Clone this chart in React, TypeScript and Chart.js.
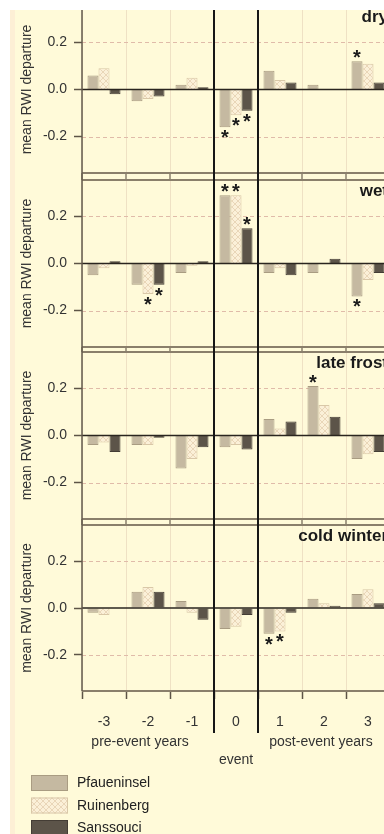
import React, { useEffect, useRef } from 'react';
import { Chart, registerables } from 'chart.js';

Chart.register(...registerables);
Chart.defaults.font.family = '"Liberation Sans", Arial, Helvetica, sans-serif';

// ---------- data ----------
const categories = ['-3', '-2', '-1', '0', '1', '2', '3'];
const siteNames = ['Pfaueninsel', 'Ruinenberg', 'Sanssouci'];
const panelTitles = ['dry', 'wet', 'late frost', 'cold winter'];
const eventCategory = '0';
const preLabel = 'pre-event years';
const postLabel = 'post-event years';
const eventLabel = 'event';
const yTitle = 'mean RWI departure';

const dryPfaueninsel = [0.06, -0.05, 0.02, -0.16, 0.08, 0.02, 0.12];
const dryRuinenberg = [0.09, -0.04, 0.05, -0.11, 0.04, 0.0, 0.11];
const drySanssouci = [-0.02, -0.03, 0.01, -0.09, 0.03, 0.0, 0.03];

const wetPfaueninsel = [-0.05, -0.09, -0.04, 0.29, -0.04, -0.04, -0.14];
const wetRuinenberg = [-0.02, -0.13, -0.01, 0.29, -0.02, 0.0, -0.07];
const wetSanssouci = [0.01, -0.09, 0.01, 0.15, -0.05, 0.02, -0.04];

const frostPfaueninsel = [-0.04, -0.04, -0.14, -0.05, 0.07, 0.21, -0.1];
const frostRuinenberg = [-0.03, -0.04, -0.1, -0.04, 0.03, 0.13, -0.08];
const frostSanssouci = [-0.07, -0.01, -0.05, -0.06, 0.06, 0.08, -0.07];

const coldPfaueninsel = [-0.02, 0.07, 0.03, -0.09, -0.11, 0.04, 0.06];
const coldRuinenberg = [-0.03, 0.09, -0.02, -0.08, -0.1, 0.02, 0.08];
const coldSanssouci = [0.0, 0.07, -0.05, -0.03, -0.02, 0.01, 0.02];

// significance stars (1 = significant)
const dryStarsPfaueninsel = [0, 0, 0, 1, 0, 0, 1];
const dryStarsRuinenberg = [0, 0, 0, 1, 0, 0, 0];
const dryStarsSanssouci = [0, 0, 0, 1, 0, 0, 0];
const wetStarsPfaueninsel = [0, 0, 0, 1, 0, 0, 1];
const wetStarsRuinenberg = [0, 1, 0, 1, 0, 0, 0];
const wetStarsSanssouci = [0, 1, 0, 1, 0, 0, 0];
const frostStarsPfaueninsel = [0, 0, 0, 0, 0, 1, 0];
const frostStarsRuinenberg = [0, 0, 0, 0, 0, 0, 0];
const frostStarsSanssouci = [0, 0, 0, 0, 0, 0, 0];
const coldStarsPfaueninsel = [0, 0, 0, 0, 1, 0, 0];
const coldStarsRuinenberg = [0, 0, 0, 0, 1, 0, 0];
const coldStarsSanssouci = [0, 0, 0, 0, 0, 0, 0];

const yMin = -0.355;
const yMax = 0.355;
const yStep = 0.2;

const panelSeries = [
  [dryPfaueninsel, dryRuinenberg, drySanssouci],
  [wetPfaueninsel, wetRuinenberg, wetSanssouci],
  [frostPfaueninsel, frostRuinenberg, frostSanssouci],
  [coldPfaueninsel, coldRuinenberg, coldSanssouci],
];
const panelStars = [
  [dryStarsPfaueninsel, dryStarsRuinenberg, dryStarsSanssouci],
  [wetStarsPfaueninsel, wetStarsRuinenberg, wetStarsSanssouci],
  [frostStarsPfaueninsel, frostStarsRuinenberg, frostStarsSanssouci],
  [coldStarsPfaueninsel, coldStarsRuinenberg, coldStarsSanssouci],
];

// ---------- styles / layout ----------
const FONT = '"Liberation Sans", Arial, Helvetica, sans-serif';
const siteFill = ['#c5b9a1', 'hatch', '#5c5449'];
const siteBorder = ['#a99c82', '#d9c8a8', '#443d35'];
const borderLine = '#8a7f6b';
const canvasWidth = 400;
const canvasTops = [-7, 167, 340, 512]; // relative to figure (page - 10)
const canvasHeights = [174, 173, 172, 312];
const padTop = [3, 3, 2, 3];
const padBottom = [4, 3, 3, 0];

let hatchPattern: CanvasPattern | null = null;
function getHatch(ctx: CanvasRenderingContext2D) {
  if (hatchPattern) return hatchPattern;
  const c = document.createElement('canvas');
  c.width = 6;
  c.height = 6;
  const g = c.getContext('2d')!;
  g.fillStyle = '#fbf0d8';
  g.fillRect(0, 0, 6, 6);
  g.strokeStyle = '#e9d6b8';
  g.lineWidth = 1;
  g.beginPath();
  g.moveTo(0, 0);
  g.lineTo(6, 6);
  g.moveTo(6, 0);
  g.lineTo(0, 6);
  g.stroke();
  hatchPattern = ctx.createPattern(c, 'repeat');
  return hatchPattern!;
}

function makeDecor(index: number, isLast: boolean) {
  const line = (ctx: CanvasRenderingContext2D, x1: number, y1: number, x2: number, y2: number) => {
    ctx.beginPath();
    ctx.moveTo(x1, y1);
    ctx.lineTo(x2, y2);
    ctx.stroke();
  };
  const bounds = (chart: any) => {
    const x = chart.scales.x;
    const c0 = x.getPixelForValue(0);
    const w = x.getPixelForValue(1) - c0;
    const arr: number[] = [];
    for (let k = 0; k <= categories.length; k++) arr.push(c0 - w / 2 + k * w);
    return arr;
  };
  return {
    id: 'panelDecor' + index,
    beforeDatasetsDraw(chart: any) {
      const { ctx, chartArea: ca } = chart;
      const y = chart.scales.y;
      ctx.save();
      ctx.strokeStyle = '#e0bba9';
      ctx.lineWidth = 1;
      ctx.setLineDash([4, 3]);
      y.ticks.forEach((t: any) => {
        if (Math.abs(t.value) < 1e-9) return;
        const py = Math.round(y.getPixelForValue(t.value)) + 0.5;
        line(ctx, ca.left, py, ca.right, py);
      });
      ctx.restore();
    },
    afterDatasetsDraw(chart: any) {
      const { ctx, chartArea: ca } = chart;
      const y = chart.scales.y;
      const x = chart.scales.x;
      const b = bounds(chart);
      const ei = categories.indexOf(eventCategory);
      ctx.save();
      // zero line
      ctx.strokeStyle = '#2a251f';
      ctx.lineWidth = 1.5;
      const y0 = y.getPixelForValue(0);
      line(ctx, ca.left, y0, ca.right, y0);
      // panel border lines
      ctx.strokeStyle = borderLine;
      ctx.lineWidth = 2;
      line(ctx, ca.left, ca.top, ca.right, ca.top);
      line(ctx, ca.left, ca.bottom, ca.right, ca.bottom);
      // gap connectors
      ctx.lineWidth = 1.5;
      b.forEach((bx, k) => {
        if (k === ei || k === ei + 1) return;
        if (!isLast) line(ctx, bx, ca.bottom, bx, chart.height);
        if (index > 0) line(ctx, bx, 0, bx, ca.top);
      });
      // left axis
      ctx.strokeStyle = '#62594b';
      ctx.lineWidth = 1.5;
      line(ctx, ca.left, 0, ca.left, isLast ? ca.bottom : chart.height);
      // event lines
      ctx.strokeStyle = '#161616';
      ctx.lineWidth = 2;
      [b[ei], b[ei + 1]].forEach((bx) => line(ctx, bx, 0, bx, isLast ? ca.bottom + 42 : chart.height));
      // title
      ctx.fillStyle = '#1a1a1a';
      ctx.font = 'bold 17px ' + FONT;
      ctx.textAlign = 'right';
      ctx.textBaseline = 'middle';
      ctx.fillText(panelTitles[index], ca.right - 2, ca.top + 11);
      // stars
      ctx.font = 'bold 20px ' + FONT;
      ctx.textAlign = 'center';
      ctx.textBaseline = 'alphabetic';
      const m = ctx.measureText('*');
      const mid = (m.actualBoundingBoxAscent - m.actualBoundingBoxDescent) / 2;
      panelStars[index].forEach((flags, di) => {
        const meta = chart.getDatasetMeta(di);
        flags.forEach((f, j) => {
          if (!f) return;
          const el = meta.data[j];
          const v = panelSeries[index][di][j];
          const cy = v >= 0 ? el.y - 7 : el.y + 7;
          ctx.fillText('*', el.x, cy + mid);
        });
      });
      if (isLast) {
        ctx.fillStyle = '#333';
        ctx.font = '14px ' + FONT;
        ctx.textAlign = 'center';
        ctx.textBaseline = 'middle';
        ctx.fillText(preLabel, (b[0] + b[ei]) / 2 - 8, ca.bottom + 51);
        ctx.fillText(postLabel, (b[ei + 1] + b[categories.length]) / 2 - 3, ca.bottom + 51);
        ctx.fillText(eventLabel, x.getPixelForValue(ei), ca.bottom + 69);
        // legend
        chart.data.datasets.forEach((ds: any, i: number) => {
          const by = ca.bottom + 84 + i * 22.5;
          ctx.fillStyle = ds.backgroundColor;
          ctx.fillRect(21, by, 37, 16);
          ctx.strokeStyle = ds.borderColor;
          ctx.lineWidth = 1;
          ctx.strokeRect(21.5, by + 0.5, 36, 15);
          ctx.fillStyle = '#222';
          ctx.textAlign = 'left';
          ctx.fillText(ds.label, 67, by + 8.5);
        });
      }
      ctx.restore();
    },
  };
}

function Panel({ index }: { index: number }) {
  const ref = useRef<HTMLCanvasElement>(null);
  useEffect(() => {
    const canvas = ref.current!;
    const ctx = canvas.getContext('2d')!;
    const isLast = index === panelTitles.length - 1;
    const hatch = getHatch(ctx);
    const chart = new Chart(canvas, {
      type: 'bar',
      data: {
        labels: categories,
        datasets: siteNames.map((name, s) => ({
          label: name,
          data: panelSeries[index][s],
          backgroundColor: siteFill[s] === 'hatch' ? (hatch as any) : siteFill[s],
          borderColor: siteBorder[s],
          borderWidth: 1,
          categoryPercentage: 0.75,
          barPercentage: 1,
        })),
      },
      options: {
        responsive: false,
        maintainAspectRatio: false,
        animation: false,
        layout: { padding: { top: padTop[index], bottom: padBottom[index], left: 0, right: 20 } },
        plugins: { legend: { display: false }, tooltip: { enabled: false }, title: { display: false } },
        scales: {
          x: {
            type: 'category',
            offset: true,
            grid: {
              offset: true,
              color: '#efe1c4',
              lineWidth: 1,
              drawTicks: isLast,
              tickLength: 8,
              tickColor: '#5d5447',
              tickWidth: 1.5,
            },
            border: { display: false },
            ticks: {
              display: isLast,
              color: '#333',
              font: { size: 14 },
              padding: 15,
              maxRotation: 0,
              autoSkip: false,
            },
            afterFit: (s: any) => {
              s.height = isLast ? 143 : 0;
              s.paddingLeft = 0;
              s.paddingRight = 0;
            },
          },
          y: {
            min: yMin,
            max: yMax,
            grid: { drawOnChartArea: false, tickLength: 8, tickColor: '#5d5447', tickWidth: 1.5 },
            border: { display: false },
            ticks: {
              stepSize: yStep,
              includeBounds: false,
              color: '#333',
              font: { size: 14 },
              padding: 7,
              callback: (v: any) => (Math.abs(Number(v)) < 1e-9 ? '0.0' : Number(v).toFixed(1)),
            },
            title: {
              display: true,
              text: yTitle,
              color: '#333',
              font: { size: 14 },
              padding: { top: 9, bottom: 0 },
            },
            afterFit: (s: any) => {
              s.width = 72;
              s.paddingTop = 0;
              s.paddingBottom = 0;
            },
          },
        },
      },
      plugins: [makeDecor(index, isLast)],
    } as any);
    return () => chart.destroy();
  }, [index]);
  return (
    <canvas
      ref={ref}
      width={canvasWidth}
      height={canvasHeights[index]}
      style={{
        position: 'absolute',
        left: 0,
        top: canvasTops[index],
        width: canvasWidth,
        height: canvasHeights[index],
        display: 'block',
      }}
    />
  );
}

export default function App() {
  return (
    <div
      style={{
        position: 'fixed',
        left: 10,
        top: 10,
        width: 374,
        height: 824,
        overflow: 'hidden',
        background: '#fffad9',
      }}
    >
      <div style={{ position: 'absolute', left: 0, top: 0, width: 5, height: '100%', background: '#fdefd5' }} />
      {panelTitles.map((t, i) => (
        <Panel key={t} index={i} />
      ))}
    </div>
  );
}
